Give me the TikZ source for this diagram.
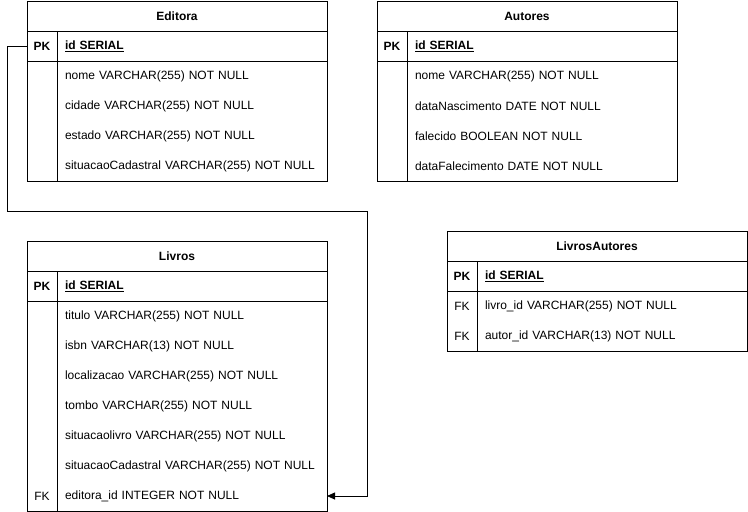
\documentclass[tikz,border=0pt]{standalone}
\usepackage{fontspec}
\setmainfont{Liberation Sans}
\usepackage{tikz}
\usetikzlibrary{arrows, arrows.meta, positioning}
\newcommand{\tablefont}{\fontsize{12pt}{14pt}\selectfont}
\tikzstyle{tablehead} = [rectangle, draw=black, minimum width=300pt, minimum height=30pt, inner sep=0pt, outer sep=0pt, text centered, font=\tablefont\bfseries]
\tikzstyle{field} = [rectangle, minimum width=270pt, minimum height=30pt, text width=254pt, inner xsep=8pt, inner ysep=0pt, outer sep=0pt, align=left, font=\tablefont]
\tikzstyle{keyfield} = [field, draw=black]
\tikzstyle{keycell} = [rectangle, minimum width=30pt, minimum height=30pt, inner sep=0pt, outer sep=0pt, text centered, font=\tablefont]
\tikzstyle{pkcell} = [keycell, draw=black, font=\tablefont\bfseries]
\tikzstyle{arrow} = [-{Stealth[length=8pt,width=7pt,inset=0pt]}]
\newcommand{\pkname}[1]{\underline{\textbf{#1}}}

\begin{document}
\begin{tikzpicture}[x=1pt, y=-1pt, line width=0.8pt]
  \useasboundingbox (0,0) rectangle (748,512);

  % Editora
  \node (editora) [tablehead] at (177,16) {Editora};
  \node (editorapk) [keyfield, below=0pt of editora.south east, anchor=north east] {\pkname{id SERIAL}};
  \node (editorapkkey) [pkcell, left=0pt of editorapk] {PK};
  \node (editoranome) [field, below=0pt of editorapk] {nome VARCHAR(255) NOT NULL};
  \node (editoracidade) [field, below=0pt of editoranome] {cidade VARCHAR(255) NOT NULL};
  \node (editoraestado) [field, below=0pt of editoracidade] {estado VARCHAR(255) NOT NULL};
  \node (editorasit) [field, below=0pt of editoraestado] {situacaoCadastral VARCHAR(255) NOT NULL};
  \draw (editora.north west) rectangle (editorasit.south east);
  \draw (editorapk.south west) -- (editorasit.south west);

  % Autores
  \node (autores) [tablehead] at (527,16) {Autores};
  \node (autorespk) [keyfield, below=0pt of autores.south east, anchor=north east] {\pkname{id SERIAL}};
  \node (autorespkkey) [pkcell, left=0pt of autorespk] {PK};
  \node (autoresnome) [field, below=0pt of autorespk] {nome VARCHAR(255) NOT NULL};
  \node (autoresnasc) [field, below=0pt of autoresnome] {dataNascimento DATE NOT NULL};
  \node (autoresfalecido) [field, below=0pt of autoresnasc] {falecido BOOLEAN NOT NULL};
  \node (autoresfalec) [field, below=0pt of autoresfalecido] {dataFalecimento DATE NOT NULL};
  \draw (autores.north west) rectangle (autoresfalec.south east);
  \draw (autorespk.south west) -- (autoresfalec.south west);

  % Livros
  \node (livros) [tablehead] at (177,256) {Livros};
  \node (livrospk) [keyfield, below=0pt of livros.south east, anchor=north east] {\pkname{id SERIAL}};
  \node (livrospkkey) [pkcell, left=0pt of livrospk] {PK};
  \node (livrostitulo) [field, below=0pt of livrospk] {titulo VARCHAR(255) NOT NULL};
  \node (livrosisbn) [field, below=0pt of livrostitulo] {isbn VARCHAR(13) NOT NULL};
  \node (livrosloc) [field, below=0pt of livrosisbn] {localizacao VARCHAR(255) NOT NULL};
  \node (livrostombo) [field, below=0pt of livrosloc] {tombo VARCHAR(255) NOT NULL};
  \node (livrossitlivro) [field, below=0pt of livrostombo] {situacaolivro VARCHAR(255) NOT NULL};
  \node (livrossit) [field, below=0pt of livrossitlivro] {situacaoCadastral VARCHAR(255) NOT NULL};
  \node (livroseditora) [field, below=0pt of livrossit] {editora\_id INTEGER NOT NULL};
  \node (livroseditorakey) [keycell, left=0pt of livroseditora] {FK};
  \draw (livros.north west) rectangle (livroseditora.south east);
  \draw (livrospk.south west) -- (livroseditora.south west);

  % LivrosAutores
  \node (livrosautores) [tablehead] at (597,246) {LivrosAutores};
  \node (lapk) [keyfield, below=0pt of livrosautores.south east, anchor=north east] {\pkname{id SERIAL}};
  \node (lapkkey) [pkcell, left=0pt of lapk] {PK};
  \node (lalivro) [field, below=0pt of lapk] {livro\_id VARCHAR(255) NOT NULL};
  \node (lalivrokey) [keycell, left=0pt of lalivro] {FK};
  \node (laautor) [field, below=0pt of lalivro] {autor\_id VARCHAR(13) NOT NULL};
  \node (laautorkey) [keycell, left=0pt of laautor] {FK};
  \draw (livrosautores.north west) rectangle (laautor.south east);
  \draw (lapk.south west) -- (laautor.south west);

  \coordinate (bendleft) at (7,211);
  \coordinate (bendright) at (367,211);
  \draw [arrow] (editorapkkey.west) -| (bendleft) -- (bendright) |- (livroseditora.east);

\end{tikzpicture}
\end{document}
